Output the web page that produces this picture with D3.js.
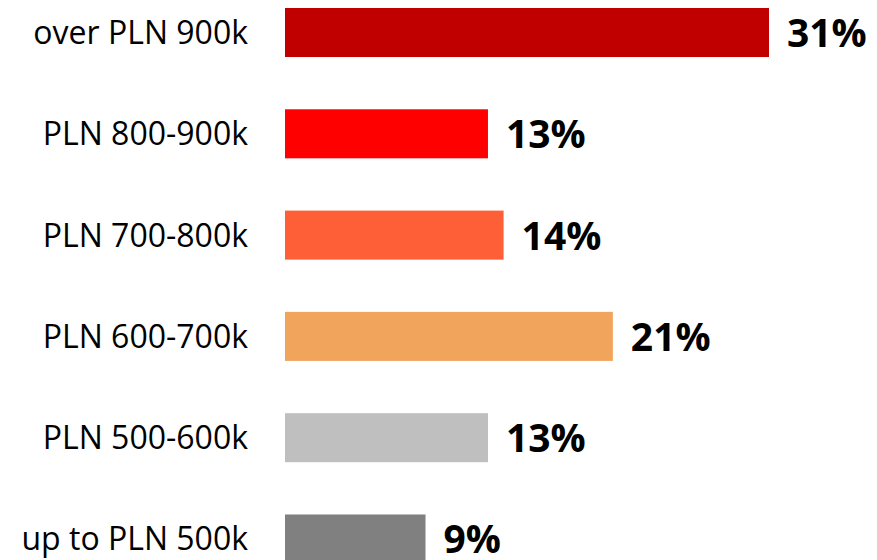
<!DOCTYPE html>
<html>
<head>
<meta charset="utf-8">
<script src="https://cdn.jsdelivr.net/npm/d3@7"></script>
<style>
  html, body { margin: 0; padding: 0; background: #fff; }
  svg { display: block; overflow: hidden; }
</style>
</head>
<body>
<div id="chart"></div>
<script>
// Share of offers by price bracket
const categories = ["over PLN 900k", "PLN 800-900k", "PLN 700-800k", "PLN 600-700k", "PLN 500-600k", "up to PLN 500k"];
const values = [31, 13, 14, 21, 13, 9];
const valueLabels = ["31%", "13%", "14%", "21%", "13%", "9%"];
const colors = ["#C00000", "#FF0000", "#FF5F37", "#F1A55C", "#BFBFBF", "#808080"];

const W = 877, H = 560;
const svg = d3.select("#chart").append("svg")
  .attr("width", W).attr("height", H);

const x = d3.scaleLinear().domain([0, 31]).range([285, 769]);
const y = d3.scaleBand().domain(categories).range([8, 563.5]).paddingInner(0.516).paddingOuter(0);

const rows = categories.map((c, i) => ({ c, v: values[i], label: valueLabels[i], color: colors[i] }));

svg.selectAll("rect.bar").data(rows).join("rect")
  .attr("class", "bar")
  .attr("x", x(0))
  .attr("y", d => y(d.c))
  .attr("width", d => x(d.v) - x(0))
  .attr("height", y.bandwidth())
  .attr("fill", d => d.color);

// category names, right-aligned before the bars
svg.selectAll("text.cat").data(rows).join("text")
  .attr("class", "cat")
  .attr("x", 248)
  .attr("y", d => y(d.c) + y.bandwidth() / 2 + 11.5)
  .attr("text-anchor", "end")
  .attr("font-family", "'Open Sans', sans-serif")
  .attr("font-size", 32)
  .attr("fill", "#000")
  .text(d => d.c);

// value labels after each bar
svg.selectAll("text.val").data(rows).join("text")
  .attr("class", "val")
  .attr("x", d => x(d.v) + 18)
  .attr("y", d => y(d.c) + y.bandwidth() / 2 + 14.5)
  .attr("text-anchor", "start")
  .attr("font-family", "'Open Sans', sans-serif")
  .attr("font-weight", 700)
  .attr("font-size", 39)
  .attr("fill", "#000")
  .text(d => d.label);
</script>
</body>
</html>
